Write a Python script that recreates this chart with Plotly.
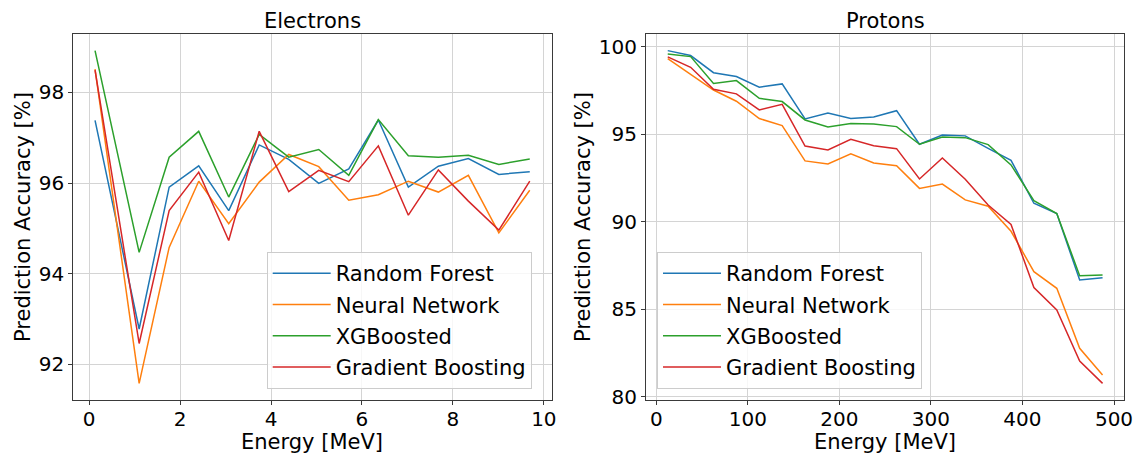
import plotly.graph_objects as go

# ---- data -------------------------------------------------------------
model_names = ["Random Forest", "Neural Network", "XGBoosted", "Gradient Boosting"]
model_colors = ["#1f77b4", "#ff7f0e", "#2ca02c", "#d62728"]

electron_energy = [0.13, 1.10, 1.76, 2.41, 3.07, 3.74, 4.39, 5.05, 5.71, 6.36,
                   7.02, 7.68, 8.34, 9.01, 9.69]
electron_rf = [97.38, 92.78, 95.91, 96.38, 95.39, 96.84, 96.52, 95.99, 96.31, 97.39,
               95.91, 96.37, 96.54, 96.19, 96.25]
electron_nn = [98.51, 91.58, 94.58, 96.04, 95.10, 96.02, 96.63, 96.36, 95.62, 95.74,
               96.04, 95.80, 96.17, 94.90, 95.84]
electron_xgb = [98.92, 94.47, 96.57, 97.14, 95.69, 97.07, 96.57, 96.74, 96.17, 97.40,
                96.60, 96.57, 96.61, 96.41, 96.53]
electron_gb = [98.49, 92.46, 95.39, 96.24, 94.73, 97.14, 95.81, 96.28, 96.03, 96.82,
               95.29, 96.29, 95.60, 94.96, 96.04]

proton_energy = [12.5, 37.5, 62.5, 87.5, 112.5, 137.5, 162.5, 187.5, 212.5, 237.5,
                 262.5, 287.5, 312.5, 337.5, 362.5, 387.5, 412.5, 437.5, 462.5, 487.5]
proton_rf = [99.77, 99.49, 98.51, 98.29, 97.68, 97.87, 95.87, 96.21, 95.89, 95.98,
             96.34, 94.42, 94.95, 94.90, 94.19, 93.50, 91.05, 90.46, 86.67, 86.80]
proton_nn = [99.31, 98.40, 97.52, 96.88, 95.89, 95.49, 93.47, 93.30, 93.87, 93.35,
             93.20, 91.90, 92.15, 91.24, 90.88, 89.45, 87.14, 86.19, 82.76, 81.24]
proton_xgb = [99.58, 99.43, 97.90, 98.06, 97.05, 96.86, 95.81, 95.41, 95.60, 95.58,
              95.43, 94.42, 94.84, 94.80, 94.40, 93.24, 91.20, 90.46, 86.91, 86.95]
proton_gb = [99.41, 98.82, 97.56, 97.30, 96.38, 96.70, 94.32, 94.10, 94.70, 94.34,
             94.17, 92.44, 93.64, 92.42, 90.95, 89.84, 86.23, 84.95, 82.04, 80.76]

electron_ticks_x = [0, 2, 4, 6, 8, 10]
electron_ticks_y = [92, 94, 96, 98]
proton_ticks_x = [0, 100, 200, 300, 400, 500]
proton_ticks_y = [80, 85, 90, 95, 100]

# ---- figure -----------------------------------------------------------
W, H = 1138, 455
FONT = "DejaVu Sans"

fig = go.Figure()

electron_series = [electron_rf, electron_nn, electron_xgb, electron_gb]
proton_series = [proton_rf, proton_nn, proton_xgb, proton_gb]

for name, color, ys in zip(model_names, model_colors, electron_series):
    fig.add_trace(go.Scatter(
        x=electron_energy, y=ys, mode="lines", name=name,
        line=dict(color=color, width=1.5),
        xaxis="x", yaxis="y", legend="legend", legendgroup="e_" + name,
    ))

for name, color, ys in zip(model_names, model_colors, proton_series):
    fig.add_trace(go.Scatter(
        x=proton_energy, y=ys, mode="lines", name=name,
        line=dict(color=color, width=1.5),
        xaxis="x2", yaxis="y2", legend="legend2", legendgroup="p_" + name,
    ))


def px_x(px):
    return px / W


def px_y(px):
    return 1 - px / H


axis_common = dict(
    showline=True, linecolor="#3a3a3a", linewidth=1, mirror=True,
    showgrid=True, gridcolor="#d4d4d4", gridwidth=1,
    ticks="outside", ticklen=4, tickcolor="#3a3a3a",
    tickfont=dict(family=FONT, size=20, color="#000000"),
    zeroline=False, automargin=False,
)
x_axis_extra = dict(ticklabelstandoff=-3)


def padded_range(values_list):
    lo = min(min(v) for v in values_list)
    hi = max(max(v) for v in values_list)
    span = hi - lo
    return [lo - 0.05 * span, hi + 0.05 * span]


y_dom = [px_y(400), px_y(34)]

legend_style = dict(
    xanchor="left", yanchor="top",
    bgcolor="rgba(255,255,255,0.8)", bordercolor="#cccccc", borderwidth=1,
    font=dict(family=FONT, size=21, color="#000000"),
    tracegroupgap=1, itemwidth=58,
)

fig.update_layout(
    width=W, height=H, autosize=False,
    margin=dict(l=0, r=0, t=0, b=0, pad=0),
    paper_bgcolor="white", plot_bgcolor="white",
    font=dict(family=FONT, color="#000000"),
    xaxis=dict(domain=[px_x(73.3), px_x(551.5)], range=padded_range([electron_energy]),
               tickvals=electron_ticks_x, anchor="y", **axis_common, **x_axis_extra),
    yaxis=dict(domain=y_dom, range=padded_range(electron_series),
               tickvals=electron_ticks_y, anchor="x", **axis_common),
    xaxis2=dict(domain=[px_x(646.0), px_x(1124.3)], range=padded_range([proton_energy]),
                tickvals=proton_ticks_x, anchor="y2", **axis_common, **x_axis_extra),
    yaxis2=dict(domain=y_dom, range=padded_range(proton_series),
                tickvals=proton_ticks_y, anchor="x2", **axis_common),
    legend=dict(x=px_x(266.7), y=px_y(252), **legend_style),
    legend2=dict(x=px_x(657), y=px_y(252), **legend_style),
)

label_font = dict(family=FONT, size=21, color="#000000")

annotations = [
    dict(text="Electrons", x=px_x(312.4), y=px_y(21), xref="paper", yref="paper",
         showarrow=False, font=label_font, xanchor="center", yanchor="middle"),
    dict(text="Protons", x=px_x(885.2), y=px_y(21), xref="paper", yref="paper",
         showarrow=False, font=label_font, xanchor="center", yanchor="middle"),
    dict(text="Energy [MeV]", x=px_x(312.4), y=px_y(442), xref="paper", yref="paper",
         showarrow=False, font=label_font, xanchor="center", yanchor="middle"),
    dict(text="Energy [MeV]", x=px_x(885.2), y=px_y(442), xref="paper", yref="paper",
         showarrow=False, font=label_font, xanchor="center", yanchor="middle"),
    dict(text="Prediction Accuracy [%]", x=px_x(23), y=px_y(217), xref="paper",
         yref="paper", showarrow=False, font=label_font, textangle=-90,
         xanchor="center", yanchor="middle"),
    dict(text="Prediction Accuracy [%]", x=px_x(583), y=px_y(217), xref="paper",
         yref="paper", showarrow=False, font=label_font, textangle=-90,
         xanchor="center", yanchor="middle"),
]
fig.update_layout(annotations=annotations)

fig.write_html("out.html")
